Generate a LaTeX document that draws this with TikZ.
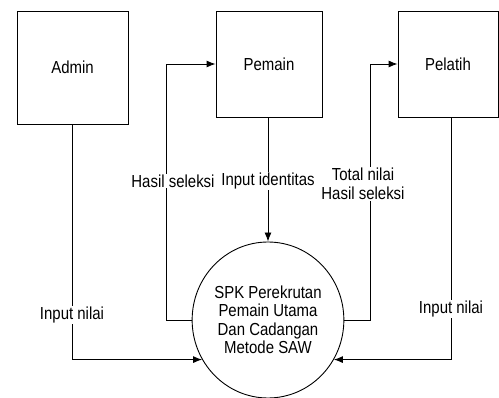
\documentclass[tikz,border=0pt]{standalone}
\usepackage{fontspec}
\setmainfont[FakeStretch=0.86]{Liberation Sans}
\usetikzlibrary{arrows.meta,shapes.geometric}
\begin{document}
\begin{tikzpicture}[x=1pt,y=-1pt,line width=0.9pt,
  kotak/.style = {draw, rectangle, inner sep=0pt},
  lbl/.style = {fill = white, inner sep=1pt, align=center},
  panah/.style = {-{Latex[length=9pt,width=7pt]}}]
\useasboundingbox (0,0) rectangle (499,398);
\fontsize{17.4}{18.5}\selectfont
\node [kotak, minimum width=111, minimum height=113] (admin) at (72.5,67.5) {Admin};
\node [kotak, minimum width=106, minimum height=106] (pemain) at (269,64) {Pemain};
\node [kotak, minimum width=100, minimum height=106] (pelatih) at (448,64) {Pelatih};
\node [draw, ellipse, minimum width=140, minimum height=156, inner sep=0pt, align=center] (proc) at (268,320)
  {SPK Perekrutan\\Pemain Utama\\Dan Cadangan\\Metode SAW};
\draw [panah] (admin.south) |- (proc.211);
\draw [panah] (proc.west) -- ++(-25,0) |- (pemain.west);
\draw [panah] (pemain.south -| proc.north) -- (proc.north);
\draw [panah] (proc.east) -- ++(26,0) |- (pelatih.west);
\draw [panah] (pelatih.south -| 451,0) |- (proc.329);
\node [lbl] (nilaiA) at (72,315) {Input nilai};
\node [lbl] (hasil) at (173,181) {Hasil seleksi};
\node [lbl] (ident) at (268,181) {Input identitas};
\node [lbl] (total) at (363,184) {Total nilai\\Hasil seleksi};
\node [lbl] (nilaiB) at (451,309) {Input nilai};
\end{tikzpicture}
\end{document}
